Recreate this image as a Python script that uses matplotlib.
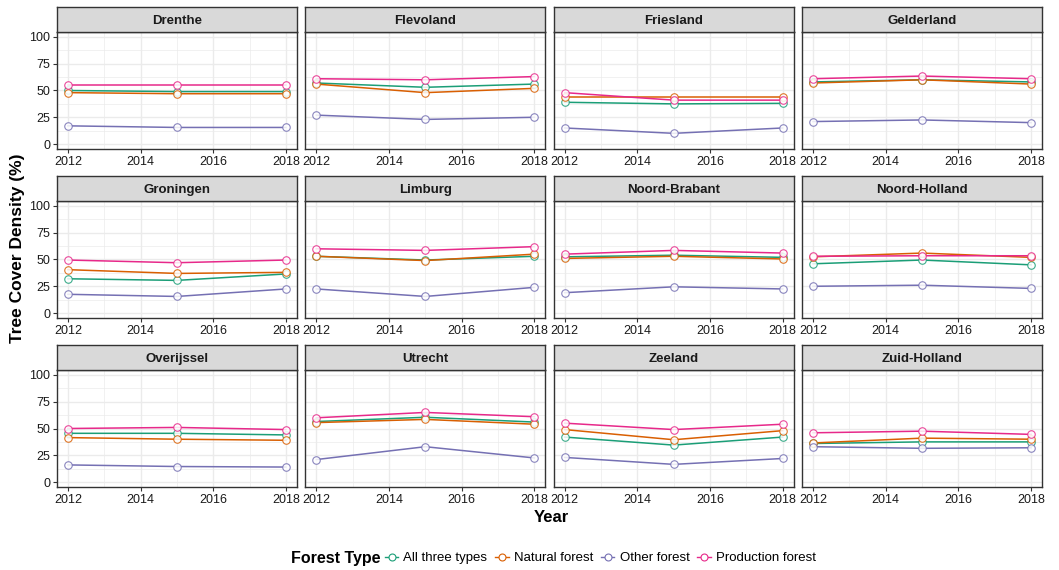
import matplotlib
matplotlib.use("Agg")
import matplotlib.pyplot as plt
from matplotlib.lines import Line2D
from matplotlib.ticker import MultipleLocator

plt.rcParams['font.family'] = ['Liberation Sans', 'DejaVu Sans']

years = [2012, 2015, 2018]
provinces = ["Drenthe", "Flevoland", "Friesland", "Gelderland",
             "Groningen", "Limburg", "Noord-Brabant", "Noord-Holland",
             "Overijssel", "Utrecht", "Zeeland", "Zuid-Holland"]
forest_types = ["All three types", "Natural forest", "Other forest", "Production forest"]
colors = ["#1B9E77", "#D95F02", "#7570B3", "#E7298A"]

# Tree cover density (%) per province, one list per forest type (2012, 2015, 2018)
all_three = [
    [50, 49, 49], [57, 53, 56], [39, 37.5, 38], [58, 60, 58],
    [32, 30.5, 36.5], [53, 49.5, 53], [52.5, 54, 52], [46, 49.5, 45],
    [45.5, 45.5, 44], [56.5, 60.5, 56], [42, 34.5, 42], [36, 37.5, 37.5],
]
natural = [
    [48, 47, 47], [56, 48, 52], [44, 44, 44], [57, 60, 56],
    [40.5, 37, 38], [53, 49, 55], [51, 53, 50.5], [52.5, 56, 52],
    [41.5, 40, 39], [55.5, 58.5, 54], [49, 39.5, 48], [36.5, 41, 40],
]
other = [
    [17, 15.5, 15.5], [27, 23, 25], [15, 10, 15], [21, 22.5, 20],
    [17.5, 15.5, 22.5], [22.5, 15.5, 24], [19, 24.5, 22.5], [25, 26, 23],
    [16, 14.5, 14], [21, 33, 22.5], [23, 16.5, 22], [33, 31.5, 32],
]
production = [
    [55, 55, 55], [61, 60, 63], [48, 41, 41], [61, 63.5, 61],
    [49.5, 47, 49.5], [60, 58.5, 62], [55, 58.5, 56], [53, 53.5, 53.5],
    [50, 51, 49], [60, 65, 61], [55, 49, 54], [46, 47.5, 44.5],
]
series = [all_three, natural, other, production]

W, H = 1059, 570
fig = plt.figure(figsize=(W / 100, H / 100), dpi=100)

left0, right_end, gap = 57, 1042, 8.5
pw = (right_end - left0 - 3 * gap) / 4
ph = 117.8
tops = [31.6, 200.6, 369.6]
strip_h = 25

grid_major = "#EBEBEB"
border = "#333333"

for i, prov in enumerate(provinces):
    r, c = divmod(i, 4)
    x0 = left0 + c * (pw + gap)
    y_top = tops[r]
    ax = fig.add_axes([x0 / W, 1 - (y_top + ph) / H, pw / W, ph / H])
    ax.set_facecolor("white")
    ax.set_xlim(2011.7, 2018.3)
    ax.set_ylim(-5, 105)
    ax.xaxis.set_major_locator(MultipleLocator(2))
    ax.xaxis.set_minor_locator(MultipleLocator(1))
    ax.yaxis.set_major_locator(MultipleLocator(25))
    ax.yaxis.set_minor_locator(MultipleLocator(12.5))
    ax.grid(which="major", color=grid_major, linewidth=1.0)
    ax.grid(which="minor", color=grid_major, linewidth=0.5)
    ax.set_axisbelow(True)
    for sp in ax.spines.values():
        sp.set_color(border)
        sp.set_linewidth(1.0)
    ax.tick_params(which="minor", length=0)
    ax.tick_params(which="major", length=3, width=0.8, color=border,
                   labelsize=9, labelcolor="#1A1A1A", pad=2)
    if c != 0:
        ax.tick_params(axis="y", which="major", length=0, labelleft=False)
    for s, col in zip(series, colors):
        ax.plot(years, s[i], color=col, linewidth=1.1, zorder=3)
        ax.plot(years, s[i], linestyle="none", marker="o", markersize=5.4,
                markerfacecolor="white", markeredgecolor=col,
                markeredgewidth=0.8, alpha=0.85, zorder=4, clip_on=False)

    # facet strip
    sax = fig.add_axes([x0 / W, 1 - y_top / H, pw / W, strip_h / H])
    sax.set_xticks([])
    sax.set_yticks([])
    sax.set_facecolor("#D9D9D9")
    for sp in sax.spines.values():
        sp.set_color(border)
        sp.set_linewidth(1.0)
    sax.text(0.5, 0.5, prov, ha="center", va="center_baseline", fontsize=9.5,
             fontweight="bold", color="#1A1A1A", transform=sax.transAxes)

fig.text(18 / W, 1 - 248 / H, "Tree Cover Density (%)", rotation=90,
         ha="center", va="center", fontsize=12.5, fontweight="bold")
fig.text(551 / W, 1 - 518 / H, "Year", ha="center", va="center",
         fontsize=12, fontweight="bold")

fig.text(291 / W, 1 - 558 / H, "Forest Type", ha="left", va="center",
         fontsize=11.5, fontweight="bold")
handles = [Line2D([0], [0], color=col, linewidth=1.0, marker="o",
                  markersize=5, markerfacecolor="white",
                  markeredgecolor=col, markeredgewidth=0.8)
           for col in colors]
fig.legend(handles, forest_types, loc="center left",
           bbox_to_anchor=(385 / W, 1 - 558 / H), ncol=4, frameon=False,
           fontsize=9.5, handlelength=1.0, handletextpad=0.4,
           columnspacing=0.6, borderaxespad=0, borderpad=0)

fig.savefig("out.png", dpi=100)
